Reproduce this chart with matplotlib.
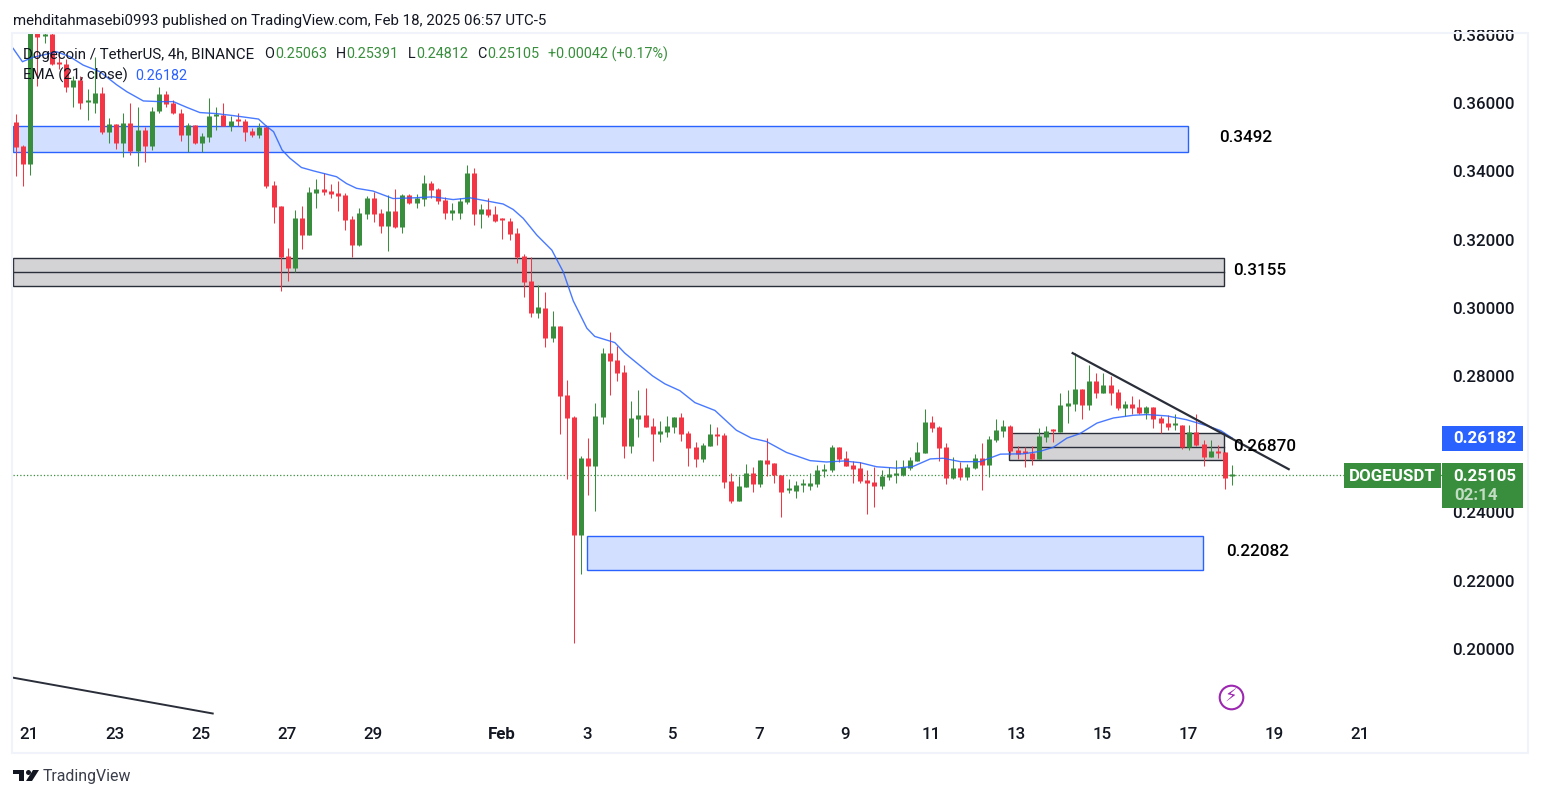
import numpy as np
import matplotlib
matplotlib.use('Agg')
import matplotlib.pyplot as plt
from matplotlib.patches import Rectangle, Polygon

plt.rcParams['font.family'] = ['Roboto', 'DejaVu Sans']

W, H = 1541, 798
UP = '#388e3c'
DOWN = '#f23645'
BLUE = '#2962ff'
INK = '#131722'

# DOGEUSDT 4h candles. index 0 = Jan 21 00:00
first_candle = -2
opens = [.3544,.3475,.3421,.3805,.3797,.3802,.3716,.3714,.3648,.3667,
 .3602,.3601,.3629,.3516,.3538,.3484,.3541,.3460,.3521,.3475,
 .3576,.3626,.3601,.3572,.3506,.3535,.3482,.3500,.3563,.3565,
 .3532,.3547,.3547,.3518,.3506,.3530,.3360,.3298,.3151,.3117,
 .3262,.3213,.3336,.3348,.3342,.3336,.3330,.3260,.3184,.3274,
 .3321,.3277,.3239,.3283,.3236,.3330,.3307,.3318,.3365,.3348,
 .3315,.3279,.3277,.3310,.3395,.3274,.3289,.3274,.3257,.3254,
 .3219,.3151,.3078,.2984,.2999,.2911,.2947,.2745,.2680,.2334,
 .2560,.2537,.2680,.2868,.2847,.2812,.2595,.2674,.2686,.2654,
 .2630,.2636,.2651,.2680,.2633,.2592,.2557,.2595,.2630,.2627,
 .2493,.2434,.2475,.2516,.2484,.2554,.2545,.2510,.2465,.2463,
 .2480,.2478,.2484,.2522,.2525,.2592,.2560,.2540,.2531,.2496,
 .2490,.2478,.2504,.2511,.2510,.2531,.2551,.2575,.2666,.2651,
 .2592,.2501,.2531,.2504,.2531,.2560,.2540,.2613,.2639,.2654,
 .2584,.2574,.2575,.2557,.2622,.2640,.2636,.2713,.2718,.2762,
 .2716,.2786,.2751,.2774,.2754,.2707,.2718,.2710,.2692,.2710,
 .2677,.2663,.2655,.2657,.2592,.2636,.2601,.2563,.2581,.2578,.25063]
highs = [.3568,.3477,.3900,.3830,.3810,.3810,.3745,.3729,.3679,.3679,
 .3641,.3734,.3646,.3555,.3538,.3572,.3599,.3587,.3530,.3587,
 .3646,.3635,.3609,.3582,.3541,.3535,.3511,.3616,.3587,.3599,
 .3562,.3572,.3553,.3526,.3540,.3535,.3370,.3298,.3174,.3286,
 .3298,.3354,.3377,.3394,.3362,.3371,.3336,.3269,.3292,.3327,
 .3339,.3289,.3330,.3348,.3333,.3333,.3333,.3389,.3371,.3351,
 .3324,.3307,.3321,.3418,.3409,.3304,.3321,.3298,.3263,.3263,
 .3233,.3157,.3148,.3066,.3046,.2990,.2947,.2789,.2683,.2566,
 .2619,.2721,.2882,.2929,.2888,.2833,.2727,.2759,.2765,.2677,
 .2668,.2683,.2680,.2692,.2639,.2607,.2604,.2660,.2651,.2633,
 .2516,.2507,.2542,.2534,.2554,.2619,.2545,.2510,.2498,.2493,
 .2498,.2516,.2540,.2542,.2598,.2592,.2581,.2551,.2548,.2525,
 .2534,.2525,.2534,.2554,.2554,.2563,.2607,.2704,.2683,.2654,
 .2604,.2563,.2548,.2542,.2572,.2604,.2625,.2674,.2672,.2657,
 .2595,.2592,.2595,.2648,.2654,.2645,.2751,.2759,.2868,.2762,
 .2833,.2809,.2809,.2800,.2762,.2727,.2742,.2733,.2713,.2710,
 .2683,.2686,.2689,.2657,.2657,.2689,.2613,.2613,.2598,.2578,.25391]
lows = [.3387,.3358,.3389,.3651,.3775,.3712,.3701,.3632,.3589,.3582,
 .3550,.3571,.3510,.3484,.3465,.3443,.3448,.3416,.3428,.3462,
 .3572,.3587,.3567,.3489,.3455,.3480,.3455,.3486,.3521,.3532,
 .3518,.3532,.3489,.3501,.3498,.3352,.3249,.3050,.3079,.3105,
 .3172,.3213,.3292,.3330,.3321,.3283,.3228,.3148,.3181,.3260,
 .3251,.3219,.3166,.3233,.3219,.3304,.3292,.3298,.3321,.3304,
 .3260,.3257,.3260,.3304,.3242,.3233,.3266,.3251,.3201,.3198,
 .3131,.3031,.2973,.2970,.2885,.2899,.2631,.2499,.2019,.2220,
 .2452,.2405,.2660,.2745,.2786,.2560,.2575,.2622,.2651,.2551,
 .2607,.2622,.2633,.2610,.2537,.2534,.2548,.2595,.2598,.2472,
 .2428,.2434,.2475,.2460,.2475,.2507,.2487,.2387,.2457,.2443,
 .2460,.2466,.2475,.2504,.2519,.2548,.2537,.2487,.2487,.2396,
 .2416,.2469,.2496,.2487,.2507,.2525,.2551,.2575,.2636,.2551,
 .2484,.2498,.2496,.2496,.2528,.2466,.2504,.2607,.2622,.2569,
 .2557,.2534,.2540,.2557,.2607,.2607,.2636,.2663,.2698,.2674,
 .2701,.2736,.2751,.2716,.2701,.2683,.2689,.2689,.2674,.2648,
 .2633,.2642,.2642,.2587,.2584,.2595,.2537,.2563,.2560,.2469,.24812]
closes = [.3472,.3421,.3860,.3794,.3802,.3714,.3714,.3648,.3667,.3601,
 .3603,.3629,.3516,.3538,.3484,.3541,.3460,.3521,.3475,.3576,
 .3626,.3598,.3570,.3506,.3535,.3482,.3503,.3562,.3564,.3532,
 .3547,.3546,.3516,.3506,.3530,.3358,.3296,.3148,.3117,.3263,
 .3213,.3339,.3348,.3339,.3333,.3327,.3257,.3184,.3277,.3321,
 .3274,.3239,.3283,.3236,.3330,.3307,.3321,.3365,.3345,.3313,
 .3277,.3280,.3313,.3395,.3274,.3289,.3272,.3254,.3256,.3216,
 .3148,.3075,.2984,.3002,.2911,.2946,.2742,.2677,.2334,.2560,
 .2537,.2683,.2868,.2844,.2809,.2595,.2677,.2686,.2651,.2630,
 .2639,.2654,.2680,.2630,.2589,.2557,.2598,.2630,.2625,.2490,
 .2434,.2478,.2516,.2484,.2554,.2542,.2510,.2460,.2466,.2481,
 .2481,.2487,.2525,.2528,.2592,.2557,.2537,.2528,.2493,.2487,
 .2478,.2507,.2513,.2512,.2534,.2554,.2578,.2666,.2648,.2589,
 .2501,.2531,.2504,.2534,.2560,.2540,.2616,.2642,.2654,.2581,
 .2572,.2573,.2557,.2625,.2639,.2638,.2716,.2721,.2762,.2716,
 .2786,.2751,.2774,.2751,.2707,.2718,.2707,.2692,.2710,.2674,
 .2663,.2651,.2656,.2592,.2636,.2598,.2563,.2581,.2575,.2502,.25105]

# EMA 21 line
ema_idx = [-2.4,-1.1,.4,3.7,5.5,7.4,9.7,12.1,13.5,15.8,18.1,20,21.9,23.7,26,28.4,31.9,33,34,
 35.2,36.3,37.9,39.6,42.8,44.2,45.6,47.9,50.7,53.5,56.3,59.1,61.5,63.8,66.1,67.5,68.9,70.8,72.9,
 74.5,75.9,77.8,78.9,81.7,83.1,87,88.7,90.8,92.9,95.7,98.7,100.8,102.9,105.7,109,111.3,113.7,116,
 118.3,121.1,123.4,125.8,127.6,130,132.8,135.6,138.8,141.1,143,144.9,146.7,149.1,151.4,154.2,156.1,
 158.9,161.6,164.5,166.4,168]
ema_val = [.3760,.3721,.3734,.3750,.3736,.3711,.3692,.3653,.3633,.3606,.3604,.3604,.3587,.3572,.3569,.3563,.3553,.3532,.3516,
 .3462,.3438,.3411,.3401,.3384,.3364,.3350,.3342,.3320,.3322,.3325,.3317,.3322,.3313,.3304,.3288,.3262,.3213,.3169,
 .3105,.3020,.2940,.2916,.2898,.2867,.2800,.2777,.2757,.2722,.2699,.2641,.2618,.2608,.2576,.2552,.2548,.2551,.2546,
 .2534,.2530,.2535,.2557,.2559,.2549,.2549,.2571,.2572,.2579,.2591,.2618,.2631,.2662,.2677,.2685,.2687,
 .2683,.2672,.2654,.2640,.26182]

# price zones: left index, right index, bottom, top, middle line
blue_zones = [(-2.42, 161.8, .3455, .3533), (77.8, 163.9, .2232, .2330)]
grey_zones = [(-2.42, 166.9, .3065, .3146, .3106), (136.8, 166.9, .2554, .2633, .2593)]
trend_x = [145.7, 175.9]
trend_y = [.2867, .2527]
old_trend_x = [-2.42, 25.5]
old_trend_y = [.1916, .1811]

zone_labels = ['0.3492', '0.3155', '0.26870', '0.22082']
zone_label_x = [166.2, 168.2, 168.2, 167.2]
zone_label_y = [.3500, .3108, .2592, .2287]

# 0.26000 sits fully behind the EMA price box, so it is not shown
y_ticks = [.20, .22, .24, .28, .30, .32, .34, .36, .38]
x_ticks = [0, 12, 24, 36, 48, 66, 78, 90, 102, 114, 126, 138, 150, 162, 174, 186]
x_labels = ['21', '23', '25', '27', '29', 'Feb', '3', '5', '7', '9', '11', '13', '15', '17', '19', '21']

last_price = closes[-1]
ema_last = ema_val[-1]


def fx(x):
    return x / W


def fy(y):
    return 1 - y / H


def fig_text(x, y, s, color=INK, size=10, ha='left', **kw):
    return fig.text(fx(x), fy(y), s, color=color, fontsize=size, ha=ha, va='center', zorder=6, **kw)


def fig_box(x0, y0, x1, y1, color, **kw):
    r = Rectangle((fx(x0), fy(y1)), fx(x1 - x0), y1 / H - y0 / H, transform=fig.transFigure,
                  facecolor=color, edgecolor='none', zorder=5, **kw)
    fig.add_artist(r)
    return r


fig = plt.figure(figsize=(W / 100, H / 100), dpi=100, facecolor='white')

# chart frame
fig.add_artist(Rectangle((fx(12), fy(753)), fx(1516), 720 / H, transform=fig.transFigure,
                         facecolor='none', edgecolor='#f0f3fa', lw=1.5, zorder=0.5))

ax = fig.add_axes([fx(13), fy(717), fx(1430), (717 - 34) / H])
ax.patch.set_alpha(0)
for s in ax.spines.values():
    s.set_visible(False)

idx = np.arange(first_candle, first_candle + len(opens))
o = np.array(opens)
h = np.array(highs)
l = np.array(lows)
c = np.array(closes)
colors = [UP if cc >= oo else DOWN for oo, cc in zip(o, c)]

ax.axhline(last_price, color=UP, lw=0.9, ls=(0, (1, 1.7)), zorder=1.5)

for x0, x1, y0, y1 in blue_zones:
    ax.add_patch(Rectangle((x0, y0), x1 - x0, y1 - y0, facecolor='#d2dffe', edgecolor=BLUE, lw=1.0, zorder=1))
for x0, x1, y0, y1, mid in grey_zones:
    ax.add_patch(Rectangle((x0, y0), x1 - x0, y1 - y0, facecolor='#d3d3d6', edgecolor='#2a2e39', lw=1.0, zorder=1))
    ax.plot([x0, x1], [mid, mid], color='#2a2e39', lw=1.0, zorder=1.2)

# wicks and bodies as vlines so every candle snaps to the same pixel width
ax.vlines(idx, l, h, colors=colors, lw=0.75, zorder=2, snap=True)
top = np.maximum(np.maximum(o, c), np.minimum(o, c) + 0.0006)
ax.vlines(idx, np.minimum(o, c), top, colors=colors, lw=3.6, zorder=2.1, snap=True, capstyle='butt')

ax.plot(ema_idx, ema_val, color=BLUE, lw=1.0, alpha=0.85, zorder=3)
ax.plot(trend_x, trend_y, color='#2a2e39', lw=1.6, zorder=4)
ax.plot(old_trend_x, old_trend_y, color='#2a2e39', lw=1.4, zorder=4)

for s, x, y in zip(zone_labels, zone_label_x, zone_label_y):
    ax.text(x, y, s, color='black', fontsize=12.3, fontweight='medium', va='center', ha='left', zorder=5)

ax.set_xlim((13 - 30.3) / 7.154, (1443 - 30.3) / 7.154)
ax.set_ylim(.20 - 68 / 3412.5, .20 + 615 / 3412.5)
ax.set_xticks(np.array(x_ticks) - 0.14, x_labels)
ax.set_yticks(y_ticks, ['%.5f' % v for v in y_ticks])
ax.yaxis.tick_right()
ax.tick_params(axis='both', length=0, labelsize=12.2, labelcolor=INK)
ax.tick_params(axis='y', pad=6.5)
ax.tick_params(axis='x', pad=7)
for lab in ax.get_yticklabels() + ax.get_xticklabels():
    lab.set_fontweight('medium')
for lab in ax.get_xticklabels():
    if lab.get_text() == 'Feb':
        lab.set_fontweight('bold')
# top price label is cut by the chart frame
clip = Rectangle((fx(1440), fy(753)), fx(100), 723 / H, transform=fig.transFigure)
ax.get_yticklabels()[-1].set_clip_path(clip)

# price scale boxes
fig_box(1442, 426, 1523, 451, BLUE)
fig_box(1442, 463, 1523, 508, UP)
fig_box(1344, 463, 1441, 488, UP)
fig_text(1516, 438.5, '%.5f' % ema_last, 'white', 12.2, ha='right', fontweight='bold')
fig_text(1516, 476.5, '%.5f' % last_price, 'white', 12.2, ha='right', fontweight='bold')
fig_text(1498, 496, '02:14', '#c3ddc5', 12.2, ha='right', fontweight='bold')
fig_text(1392.5, 476.5, 'DOGEUSDT', 'white', 12.2, ha='center', fontweight='bold')

# header and legend
fig_text(13, 20.5, 'mehditahmasebi0993 published on TradingView.com, Feb 18, 2025 06:57 UTC-5', size=10.85)
fig_text(23, 54.5, 'Dogecoin / TetherUS, 4h, BINANCE', size=10.8)
fig_text(264, 54.5, 'O', size=10.4)
fig_text(275, 54.5, '0.25063', UP, 10.4)
fig_text(336, 54.5, 'H', size=10.4)
fig_text(346, 54.5, '0.25391', UP, 10.4)
fig_text(408, 54.5, 'L', size=10.4)
fig_text(416, 54.5, '0.24812', UP, 10.4)
fig_text(477, 54.5, 'C', size=10.4)
fig_text(487, 54.5, '0.25105', UP, 10.4)
fig_text(548, 54.5, '+0.00042 (+0.17%)', UP, 10.4)
fig_text(23, 75.5, 'EMA (21, close)', size=10.8)
fig_text(135, 75.5, '0.26182', BLUE, 10.4)

# lightning badge
fig.add_artist(plt.Line2D([fx(1231)], [fy(697)], marker='o', ms=17, mfc='white', mec='#9c27b0', mew=1.5, zorder=5))
fig_text(1231, 697, '\u26a1', '#9c27b0', 13, ha='center', family=['DejaVu Sans'])

# footer logo
for pts in ([(13, 770), (24, 770), (24, 781), (19, 781), (19, 774), (13, 774)],
            [(33, 770), (39, 770), (32, 781), (26, 781)]):
    fig.add_artist(Polygon([(fx(a), fy(b)) for a, b in pts], closed=True, transform=fig.transFigure,
                           facecolor=INK, edgecolor='none', zorder=5))
fig.add_artist(plt.Line2D([fx(28)], [fy(772)], marker='o', ms=3.6, mfc=INK, mec='none', zorder=5))
fig_text(43, 777, 'TradingView', '#3a3e4a', 11.4)

fig.savefig('out.png', dpi=100)
